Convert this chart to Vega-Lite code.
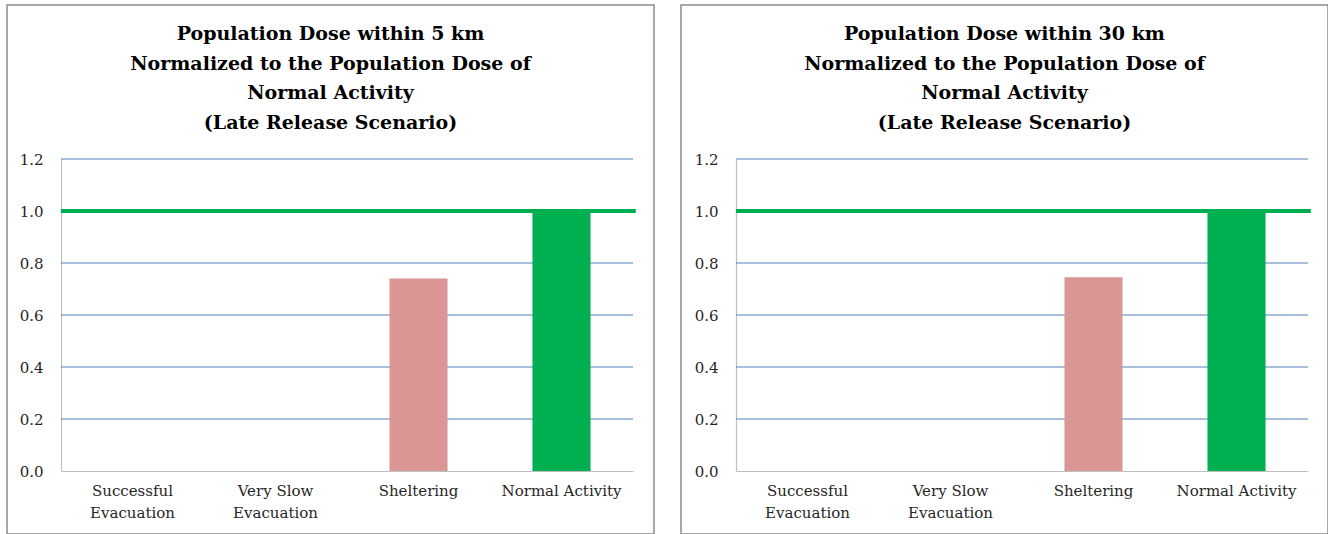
{
  "$schema": "https://vega.github.io/schema/vega-lite/v6.json",
  "padding": {"left": 6, "top": 4, "right": 0, "bottom": 0},
  "background": "white",
  "spacing": 25,
  "datasets": {
    "dose": [
      {"panel": "5 km", "scenario": "Successful Evacuation", "dose": 0},
      {"panel": "5 km", "scenario": "Very Slow Evacuation", "dose": 0},
      {"panel": "5 km", "scenario": "Sheltering", "dose": 0.74},
      {"panel": "5 km", "scenario": "Normal Activity", "dose": 1.0},
      {"panel": "30 km", "scenario": "Successful Evacuation", "dose": 0},
      {"panel": "30 km", "scenario": "Very Slow Evacuation", "dose": 0},
      {"panel": "30 km", "scenario": "Sheltering", "dose": 0.745},
      {"panel": "30 km", "scenario": "Normal Activity", "dose": 1.0}
    ],
    "gridlines": [{"level": 0.2}, {"level": 0.4}, {"level": 0.6}, {"level": 0.8}, {"level": 1.0}, {"level": 1.2}]
  },
  "config": {
    "font": "DejaVu Serif",
    "view": {"stroke": "#8c8c8c", "strokeWidth": 1.5},
    "title": {
      "font": "DejaVu Serif",
      "fontSize": 19,
      "fontWeight": "bold",
      "lineHeight": 29.7,
      "color": "#000000",
      "anchor": "middle",
      "frame": "group",
      "offset": -128
    },
    "axis": {
      "labelFont": "DejaVu Serif",
      "labelFontSize": 15,
      "labelColor": "#262626",
      "domainColor": "#bfbfbf",
      "domainWidth": 1.2,
      "ticks": false,
      "grid": false,
      "title": null
    }
  },
  "hconcat": [
    {
      "width": 647,
      "height": 529,
      "title": {"text": ["Population Dose within 5 km", "Normalized to the Population Dose of", "Normal Activity", "(Late Release Scenario)"]},
      "layer": [
        {
          "data": {"name": "gridlines"},
          "mark": {"type": "rule", "color": "#4f81bd", "strokeWidth": 1},
          "encoding": {
            "x": {"datum": "Successful Evacuation", "type": "nominal", "bandPosition": -0.733},
            "x2": {"datum": "Normal Activity", "bandPosition": 1.733},
            "y": {"field": "level", "type": "quantitative"}
          }
        },
        {
          "data": {"name": "dose"},
          "transform": [{"filter": "datum.panel === '5 km'"}],
          "mark": {"type": "bar"},
          "encoding": {
            "x": {
              "field": "scenario", "type": "nominal", "sort": null,
              "scale": {"domain": ["Successful Evacuation", "Very Slow Evacuation", "Sheltering", "Normal Activity"], "range": [54, 626], "paddingInner": 0.594, "paddingOuter": 0.297},
              "axis": {"orient": "bottom", "offset": -63, "bandPosition": 0.5, "labelAngle": 0, "labelAlign": "center", "labelBaseline": "top", "labelPadding": 12, "labelLineHeight": 22, "zindex": 1,
                "labelExpr": "indexof(datum.label, ' Evacuation') > 0 ? [replace(datum.label, ' Evacuation', ''), 'Evacuation'] : datum.label"}
            },
            "y": {
              "field": "dose", "type": "quantitative",
              "scale": {"domain": [0, 1.2], "range": [466, 154], "nice": false},
              "axis": {"orient": "left", "offset": -54, "values": [0, 0.2, 0.4, 0.6, 0.8, 1.0, 1.2], "format": ".1f", "labelPadding": 18}
            },
            "color": {
              "field": "scenario", "type": "nominal", "legend": null,
              "scale": {"domain": ["Successful Evacuation", "Very Slow Evacuation", "Sheltering", "Normal Activity"], "range": ["#4f81bd", "#c0504d", "#d99694", "#00b050"]}
            }
          }
        },
        {
          "data": {"name": "dose"},
          "transform": [{"filter": "datum.panel === '5 km' && datum.scenario === 'Normal Activity'"}],
          "mark": {"type": "rule", "color": "#00b050", "strokeWidth": 4},
          "encoding": {
            "x": {"datum": "Successful Evacuation", "type": "nominal", "bandPosition": -0.733},
            "x2": {"datum": "Normal Activity", "bandPosition": 1.78},
            "y": {"field": "dose", "type": "quantitative"}
          }
        }
      ]
    },
    {
      "width": 647,
      "height": 529,
      "title": {"text": ["Population Dose within 30 km", "Normalized to the Population Dose of", "Normal Activity", "(Late Release Scenario)"]},
      "layer": [
        {
          "data": {"name": "gridlines"},
          "mark": {"type": "rule", "color": "#4f81bd", "strokeWidth": 1},
          "encoding": {
            "x": {"datum": "Successful Evacuation", "type": "nominal", "bandPosition": -0.733},
            "x2": {"datum": "Normal Activity", "bandPosition": 1.733},
            "y": {"field": "level", "type": "quantitative"}
          }
        },
        {
          "data": {"name": "dose"},
          "transform": [{"filter": "datum.panel === '30 km'"}],
          "mark": {"type": "bar"},
          "encoding": {
            "x": {
              "field": "scenario", "type": "nominal", "sort": null,
              "scale": {"domain": ["Successful Evacuation", "Very Slow Evacuation", "Sheltering", "Normal Activity"], "range": [55, 627], "paddingInner": 0.594, "paddingOuter": 0.297},
              "axis": {"orient": "bottom", "offset": -63, "bandPosition": 0.5, "labelAngle": 0, "labelAlign": "center", "labelBaseline": "top", "labelPadding": 12, "labelLineHeight": 22, "zindex": 1,
                "labelExpr": "indexof(datum.label, ' Evacuation') > 0 ? [replace(datum.label, ' Evacuation', ''), 'Evacuation'] : datum.label"}
            },
            "y": {
              "field": "dose", "type": "quantitative",
              "scale": {"domain": [0, 1.2], "range": [466, 154], "nice": false},
              "axis": {"orient": "left", "offset": -55, "values": [0, 0.2, 0.4, 0.6, 0.8, 1.0, 1.2], "format": ".1f", "labelPadding": 18}
            },
            "color": {
              "field": "scenario", "type": "nominal", "legend": null,
              "scale": {"domain": ["Successful Evacuation", "Very Slow Evacuation", "Sheltering", "Normal Activity"], "range": ["#4f81bd", "#c0504d", "#d99694", "#00b050"]}
            }
          }
        },
        {
          "data": {"name": "dose"},
          "transform": [{"filter": "datum.panel === '30 km' && datum.scenario === 'Normal Activity'"}],
          "mark": {"type": "rule", "color": "#00b050", "strokeWidth": 4},
          "encoding": {
            "x": {"datum": "Successful Evacuation", "type": "nominal", "bandPosition": -0.733},
            "x2": {"datum": "Normal Activity", "bandPosition": 1.78},
            "y": {"field": "dose", "type": "quantitative"}
          }
        }
      ]
    }
  ]
}
